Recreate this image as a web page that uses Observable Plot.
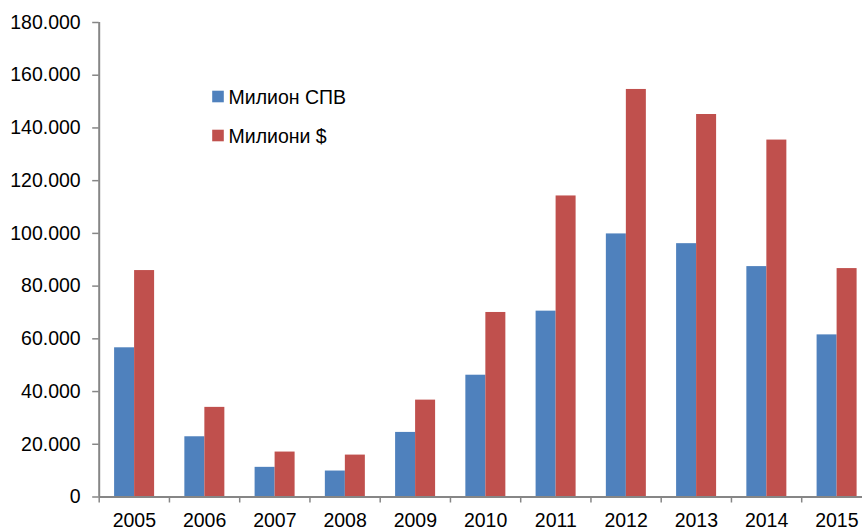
<!DOCTYPE html>
<html>
<head>
<meta charset="utf-8">
<script src="https://cdn.jsdelivr.net/npm/d3@7"></script>
<script src="https://cdn.jsdelivr.net/npm/@observablehq/plot@0.6"></script>
<style>
  html, body { margin: 0; padding: 0; background: #fff; }
  #chart { width: 862px; height: 531px; overflow: hidden; }
</style>
</head>
<body>
<div id="chart"></div>
<script>
// Data
const years = ["2005","2006","2007","2008","2009","2010","2011","2012","2013","2014","2015"];
const sdrMillions = [56600, 22850, 11250, 9850, 24500, 46200, 70500, 99800, 96100, 87400, 61500];
const usdMillions = [85900, 34000, 17050, 15900, 36750, 70000, 114200, 154600, 145100, 135400, 86650];
const seriesNames = ["Милион СПВ", "Милиони $"];
const seriesColors = ["#4F81BD", "#C0504D"];
const yTicks = [0, 20000, 40000, 60000, 80000, 100000, 120000, 140000, 160000, 180000];
const yTickLabels = ["0", "20.000", "40.000", "60.000", "80.000", "100.000", "120.000", "140.000", "160.000", "180.000"];

const data = years.map((year, i) => ({year, sdr: sdrMillions[i], usd: usdMillions[i]}));

const W = 862, H = 531;
const xStart = 98.7, step = 70.25;
const half = step / 2;
const axisGray = "#868686";
const fontSize = 19.5;

const chart = Plot.plot({
  width: W,
  height: H,
  marginTop: 22,
  marginBottom: 34.5,
  marginLeft: xStart,
  marginRight: 0,
  style: {fontFamily: "'Liberation Sans', Arial, sans-serif", fontSize: fontSize + "px", background: "white", color: "black"},
  x: {type: "band", domain: years, range: [xStart, xStart + step * years.length], padding: 0, round: false, axis: null},
  y: {domain: [0, 180000], axis: null},
  marks: [
    Plot.barY(data, {x: "year", y: "sdr", fill: seriesColors[0], insetLeft: 15.4, insetRight: step - 35.4}),
    Plot.barY(data, {x: "year", y: "usd", fill: seriesColors[1], insetLeft: 35.4, insetRight: step - 55.4}),
    // x axis baseline
    Plot.ruleY([0], {stroke: axisGray, strokeWidth: 2}),
    // y axis line at left edge of the first category band
    Plot.ruleX([years[0]], {y1: 0, y2: 180000, dx: -half, stroke: axisGray, strokeWidth: 2}),
    // x ticks between categories
    Plot.ruleX(years, {y1: 0, y2: 0, insetBottom: -6, dx: -half, stroke: axisGray, strokeWidth: 1.5}),
    Plot.axisY({ticks: yTicks, tickFormat: (d) => yTickLabels[yTicks.indexOf(d)], tickSize: 6.5, tickPadding: 12, stroke: axisGray, strokeWidth: 1.5, color: "black", label: null, fontSize: fontSize}),
    Plot.axisX({tickSize: 0, tickPadding: 16, label: null, color: "black", fontSize: fontSize}),
    // legend inside the plot area
    Plot.dot([0], {frameAnchor: "top-left", dx: 217.5 - xStart, dy: 96 - 22, symbol: "square", r: 11.6 / Math.sqrt(Math.PI), fill: seriesColors[0], stroke: "none"}),
    Plot.dot([0], {frameAnchor: "top-left", dx: 217.5 - xStart, dy: 135 - 22, symbol: "square", r: 11.6 / Math.sqrt(Math.PI), fill: seriesColors[1], stroke: "none"}),
    Plot.text([seriesNames[0]], {frameAnchor: "top-left", dx: 228 - xStart, dy: 97.5 - 22, textAnchor: "start", lineAnchor: "middle", fill: "black", fontSize: fontSize}),
    Plot.text([seriesNames[1]], {frameAnchor: "top-left", dx: 228 - xStart, dy: 136 - 22, textAnchor: "start", lineAnchor: "middle", fill: "black", fontSize: fontSize})
  ]
});
document.getElementById("chart").appendChild(chart);
</script>
</body>
</html>
